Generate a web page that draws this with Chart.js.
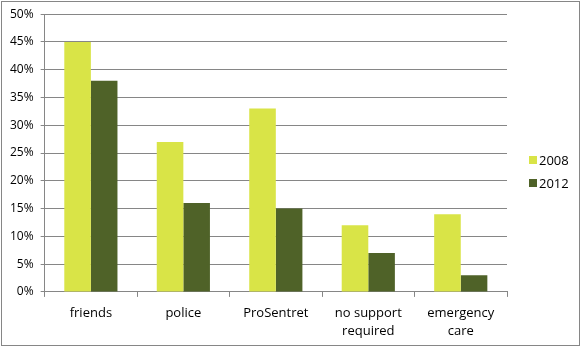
<!DOCTYPE html>
<html lang="en">
<head>
    <meta charset="UTF-8">
    <title>Support sought 2008 vs 2012</title>
    <script src="https://cdn.jsdelivr.net/npm/chart.js"></script>
    <style>
        body {
            margin: 0;
            background: #fff;
        }
        #wrap {
            width: 582px;
            height: 348px;
        }
    </style>
</head>
<body>
    <div id="wrap">
        <canvas id="myChart" width="582" height="348"></canvas>
    </div>

    <script>
// categories and values (percent)
const categories = ['friends', 'police', 'ProSentret', ['no support', 'required'], ['emergency', 'care']];
const seriesNames = ['2008', '2012'];
const values2008 = [45, 27, 33, 12, 14];
const values2012 = [38, 16, 15, 7, 3];
const yTicks = [0, 5, 10, 15, 20, 25, 30, 35, 40, 45, 50];

const gridColor = '#868686';
const fontFamily = "'Open Sans', 'Noto Sans', sans-serif";

// outer frame around the whole chart
const framePlugin = {
    id: 'frame',
    afterDraw(chart) {
        const ctx = chart.ctx;
        ctx.save();
        ctx.strokeStyle = gridColor;
        ctx.lineWidth = 1;
        ctx.strokeRect(1.5, 1.5, 578, 344);
        ctx.restore();
    }
};

// legend on the right, small square swatches stacked
const sideLegend = {
    id: 'sideLegend',
    afterDraw(chart) {
        const ctx = chart.ctx;
        const x = chart.chartArea.right + 22;
        const startY = chart.chartArea.top + 146;
        const rowGap = 23;
        ctx.save();
        ctx.font = '13px ' + fontFamily;
        ctx.textBaseline = 'middle';
        chart.data.datasets.forEach((ds, i) => {
            const cy = Math.round(startY + i * rowGap);
            ctx.fillStyle = ds.backgroundColor;
            ctx.fillRect(x, cy - 4, 8, 8);
            ctx.fillStyle = '#000';
            ctx.fillText(ds.label, x + 10, cy + 1);
        });
        ctx.restore();
    }
};

const ctx = document.getElementById('myChart').getContext('2d');
const chart = new Chart(ctx, {
    type: 'bar',
    data: {
        labels: categories,
        datasets: [{
            label: seriesNames[0],
            data: values2008,
            backgroundColor: '#d9e447'
        },
        {
            label: seriesNames[1],
            data: values2012,
            backgroundColor: '#4f6228'
        }]
    },
    options: {
        responsive: false,
        animation: false,
        devicePixelRatio: 1,
        layout: {
            padding: { top: 14, left: 3, right: 75, bottom: 0 }
        },
        datasets: {
            bar: {
                categoryPercentage: 0.575,
                barPercentage: 1.0
            }
        },
        scales: {
            x: {
                grid: {
                    offset: true,
                    drawOnChartArea: false,
                    drawTicks: true,
                    tickLength: 5,
                    color: gridColor
                },
                border: { color: gridColor },
                ticks: {
                    color: '#000',
                    font: { family: fontFamily, size: 13, lineHeight: 1.35 },
                    maxRotation: 0,
                    padding: 8
                }
            },
            y: {
                min: 0,
                max: 50,
                afterBuildTicks(scale) {
                    scale.ticks = yTicks.map(v => ({ value: v }));
                },
                grid: {
                    color: gridColor,
                    tickLength: 4
                },
                border: { color: gridColor },
                ticks: {
                    color: '#000',
                    font: { family: fontFamily, size: 12 },
                    padding: 7,
                    callback: v => v + '%'
                }
            }
        },
        plugins: {
            legend: { display: false },
            tooltip: { enabled: false }
        }
    },
    plugins: [framePlugin, sideLegend]
});
    </script>
</body>
</html>
